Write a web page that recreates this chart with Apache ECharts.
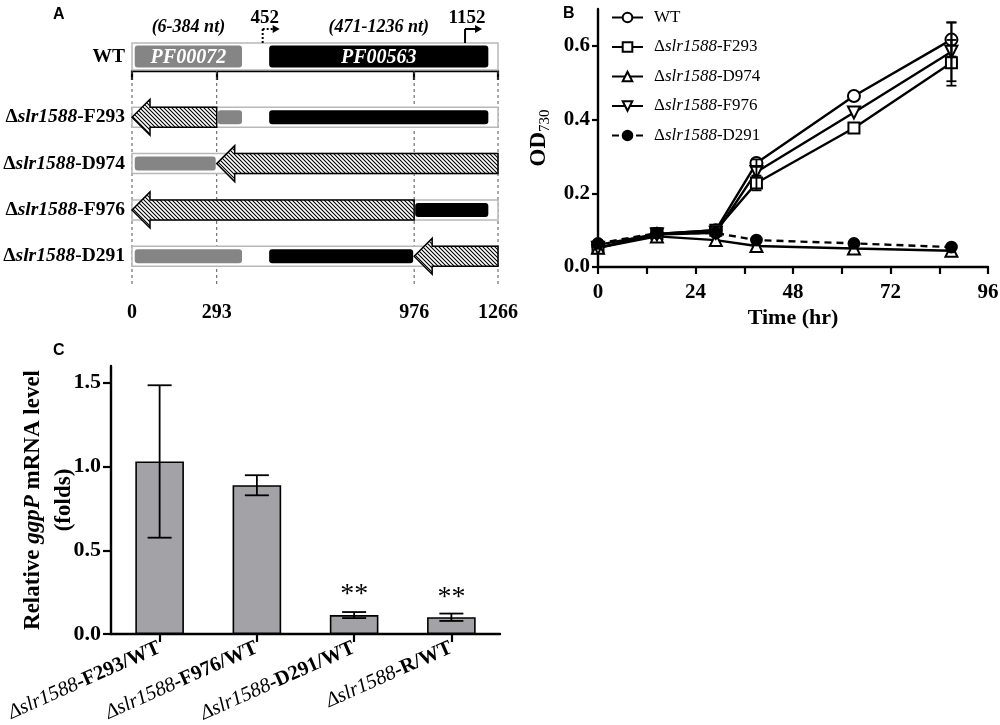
<!DOCTYPE html>
<html>
<head>
<meta charset="utf-8">
<script src="https://cdn.jsdelivr.net/npm/echarts@6/dist/echarts.min.js"></script>
<style>
html, body { margin: 0; padding: 0; background: #fff; }
#fig { width: 1000px; height: 725px; }
</style>
</head>
<body>
<div id="fig"></div>
<script>
// ---- panel A: gene map
const geneLength = 1266;
const geneTicks = [0, 293, 976, 1266];
const domainNames = ['PF00072', 'PF00563'];
const domainStart = [6, 471];
const domainEnd = [384, 1236];
const domainRanges = ['(6-384 nt)', '(471-1236 nt)'];
const promoterPos = [452, 1152];
const mutantNames = ['F293', 'D974', 'F976', 'D291'];
const deletionStart = [0, 293, 0, 976];
const deletionEnd = [293, 1266, 976, 1266];

// ---- panel B: growth
const strainNames = ['WT', 'Δslr1588-F293', 'Δslr1588-D974', 'Δslr1588-F976', 'Δslr1588-D291'];
const timeHr = [0, 14.5, 29, 39, 63, 87];
const odWT = [0.060, 0.090, 0.100, 0.282, 0.464, 0.617];
const odF293 = [0.052, 0.090, 0.100, 0.228, 0.377, 0.554];
const odD974 = [0.052, 0.083, 0.073, 0.057, 0.050, 0.044];
const odF976 = [0.052, 0.088, 0.093, 0.258, 0.419, 0.584];
const odD291 = [0.064, 0.092, 0.092, 0.073, 0.064, 0.054];
const errWT = [0, 0, 0, 0.010, 0, 0.046];
const errF293 = [0, 0, 0.010, 0.020, 0, 0.062];
const errD974 = [0, 0, 0, 0, 0, 0];
const errF976 = [0, 0, 0, 0.015, 0, 0.080];
const errD291 = [0, 0, 0, 0, 0, 0];
const timeTicks = [0, 12, 24, 36, 48, 60, 72, 84, 96];
const timeLabels = [0, 24, 48, 72, 96];
const odLabels = [0, 0.2, 0.4, 0.6];

// ---- panel C: ggpP mRNA
const ratioNames = ['Δslr1588-F293/WT', 'Δslr1588-F976/WT', 'Δslr1588-D291/WT', 'Δslr1588-R/WT'];
const ratioValues = [1.03, 0.888, 0.113, 0.100];
const ratioErr = [0.455, 0.060, 0.018, 0.022];
const ratioSig = ['', '', '**', '**'];
const ratioLabels = [0, 0.5, 1.0, 1.5];

const serif = '"Liberation Serif", "Times New Roman", serif';
const sans = '"Liberation Sans", Arial, sans-serif';
const rowAxisMax = 4.6;

var chart = echarts.init(document.getElementById('fig'));

// hatch fill for the inserted cassette arrows
const hatchCanvas = (() => {
    const s = 4, c = document.createElement('canvas');
    c.width = s; c.height = s;
    const g = c.getContext('2d');
    g.fillStyle = '#fff'; g.fillRect(0, 0, s, s);
    g.strokeStyle = '#000'; g.lineWidth = 1.1;
    g.beginPath();
    g.moveTo(-1, -1); g.lineTo(s + 1, s + 1);
    g.moveTo(-1, s - 1); g.lineTo(1, s + 1);
    g.moveTo(s - 1, -1); g.lineTo(s + 1, 1);
    g.stroke();
    return c;
})();

// domain pieces left in each mutant after the deletion
const mutantDomains = [];
mutantNames.forEach((m, r) => {
    domainStart.forEach((s, i) => {
        const e = domainEnd[i], a = deletionStart[r], b = deletionEnd[r];
        if (b <= s || a >= e) { mutantDomains.push([s, e, r + 1, i]); return; }
        if (s < a) mutantDomains.push([s, a, r + 1, i]);
        if (e > b) mutantDomains.push([b, e, r + 1, i]);
    });
});

const domainFill = ['#858585', '#000'];

const trackItem = (api, h) => {
    const p0 = api.coord([api.value(0), api.value(2)]);
    const p1 = api.coord([api.value(1), api.value(2)]);
    return {
        type: 'rect',
        shape: { x: p0[0], y: p0[1] - h / 2, width: p1[0] - p0[0], height: h },
        style: { fill: '#fff', stroke: '#b8b8b8', lineWidth: 1.5 }
    };
};

const domainItem = (api, h, withText) => {
    const p0 = api.coord([api.value(0), api.value(2)]);
    const p1 = api.coord([api.value(1), api.value(2)]);
    const k = api.value(3);
    const children = [{
        type: 'rect',
        shape: { x: p0[0] + 1, y: p0[1] - h / 2, width: p1[0] - p0[0] - 2, height: h, r: 3 },
        style: { fill: domainFill[k] }
    }];
    if (withText) {
        children.push({
            type: 'text',
            style: {
                text: domainNames[k], x: (p0[0] + p1[0]) / 2, y: p0[1] + 1,
                fill: '#fff', font: 'italic bold 20px ' + serif, align: 'center', verticalAlign: 'middle'
            }
        });
        children.push({
            type: 'text',
            style: {
                text: domainRanges[k], x: (p0[0] + p1[0]) / 2, y: p0[1] - 29,
                fill: '#000', font: 'italic bold 18px ' + serif, align: 'center', verticalAlign: 'middle'
            }
        });
    }
    return { type: 'group', children: children };
};

const mutantLabel = (v) => {
    const n = mutantNames[v - 1];
    return n ? '{d|Δ}{i|slr1588}{b|-' + n + '}' : '';
};

const rowRich = {
    d: { fontFamily: serif, fontWeight: 'bold', fontSize: 19.5, color: '#000' },
    i: { fontFamily: serif, fontWeight: 'bold', fontStyle: 'italic', fontSize: 19.5, color: '#000' },
    b: { fontFamily: serif, fontWeight: 'bold', fontSize: 19.5, color: '#000' }
};

const legendRich = {
    n: { fontFamily: serif, fontSize: 17, color: '#000', lineHeight: 18 },
    i: { fontFamily: serif, fontStyle: 'italic', fontSize: 17, color: '#000', lineHeight: 18 }
};

// error bar points for panel B
const odSets = [odWT, odF293, odD974, odF976, odD291];
const errSets = [errWT, errF293, errD974, errF976, errD291];
const odErrData = [];
odSets.forEach((set, s) => {
    set.forEach((v, i) => {
        const e = errSets[s][i];
        if (e > 0.005) odErrData.push([timeHr[i], v - e, v + e]);
    });
});

const errorItem = (capW) => (params, api) => {
    const lo = api.coord([api.value(0), api.value(1)]);
    const hi = api.coord([api.value(0), api.value(2)]);
    const st = { stroke: '#000', lineWidth: 1.8 };
    return {
        type: 'group',
        children: [
            { type: 'line', shape: { x1: lo[0], y1: lo[1], x2: hi[0], y2: hi[1] }, style: st },
            { type: 'line', shape: { x1: lo[0] - capW / 2, y1: lo[1], x2: lo[0] + capW / 2, y2: lo[1] }, style: st },
            { type: 'line', shape: { x1: hi[0] - capW / 2, y1: hi[1], x2: hi[0] + capW / 2, y2: hi[1] }, style: st }
        ]
    };
};

const symbols = ['emptyCircle', 'emptyRect', 'emptyTriangle', 'emptyTriangle', 'circle'];
const symbolSizes = [12, 11, 12, 12, 11];
const symbolRotates = [0, 0, 0, 180, 0];

const lineSeries = strainNames.map((name, s) => ({
    name: name,
    type: 'line',
    xAxisIndex: 2,
    yAxisIndex: 2,
    data: timeHr.map((t, i) => [t, odSets[s][i]]),
    symbol: symbols[s],
    symbolSize: symbolSizes[s],
    symbolRotate: symbolRotates[s],
    lineStyle: { color: '#000', width: 2.4, type: s === 4 ? [7, 5] : 'solid' },
    itemStyle: { color: '#000', borderColor: '#000', borderWidth: 1.8 },
    z: 2
}));

const axisLineStyle = { lineStyle: { color: '#000', width: 2.4 } };
const tickStyle = { color: '#000', width: 2.2 };
const titleStyle = { fontFamily: sans, fontWeight: 'bold', fontSize: 16, color: '#000' };

option = {
    animation: false,
    backgroundColor: '#fff',
    title: [
        { text: 'A', left: 48, top: 2, textStyle: titleStyle },
        { text: 'B', left: 558, top: 1, textStyle: titleStyle },
        { text: 'C', left: 48, top: 338, textStyle: titleStyle }
    ],
    legend: {
        orient: 'vertical',
        left: 606,
        top: 4,
        itemWidth: 31,
        itemHeight: 12,
        itemGap: 12.5,
        data: strainNames,
        formatter: (name) => name === 'WT' ? '{n|WT}' : '{n|Δ}{i|slr1588}{n|' + name.slice(8) + '}',
        textStyle: { rich: legendRich, padding: [0, 0, 0, 6] }
    },
    grid: [
        { left: 132, width: 366, top: 43, height: 27, outerBoundsMode: 'none' },
        { left: 132, width: 366, top: 71, height: 213, outerBoundsMode: 'none' },
        { left: 598, width: 390, top: 9, height: 258, outerBoundsMode: 'none' },
        { left: 111, width: 389, top: 366, height: 268, outerBoundsMode: 'none' }
    ],
    xAxis: [
        { gridIndex: 0, type: 'value', min: 0, max: geneLength, show: false },
        {
            gridIndex: 1, type: 'value', min: 0, max: geneLength,
            axisLine: axisLineStyle,
            axisTick: { show: true, length: 9, lineStyle: tickStyle, customValues: geneTicks },
            axisLabel: { customValues: geneTicks, margin: 19, formatter: (v) => String(v), fontFamily: serif, fontWeight: 'bold', fontSize: 20, color: '#000' },
            splitLine: { show: false }
        },
        {
            gridIndex: 2, type: 'value', min: 0, max: 96,
            name: 'Time (hr)', nameLocation: 'middle', nameGap: 40,
            nameTextStyle: { fontFamily: serif, fontWeight: 'bold', fontSize: 22, color: '#000' },
            axisLine: axisLineStyle,
            axisTick: { show: true, length: 7, lineStyle: tickStyle, customValues: timeTicks },
            axisLabel: { customValues: timeLabels, margin: 15, formatter: (v) => String(v), fontFamily: serif, fontWeight: 'bold', fontSize: 21, color: '#000' },
            splitLine: { show: false }
        },
        {
            gridIndex: 3, type: 'category', data: ratioNames,
            axisLine: axisLineStyle,
            axisTick: { show: true, alignWithLabel: true, length: 8, lineStyle: tickStyle },
            axisLabel: {
                interval: 0, rotate: 24, margin: 13,
                formatter: (v) => '{i|' + v.slice(0, 8) + '}{b|' + v.slice(8) + '}',
                rich: {
                    i: { fontFamily: serif, fontStyle: 'italic', fontSize: 20.5, color: '#000' },
                    b: { fontFamily: serif, fontWeight: 'bold', fontSize: 20.5, color: '#000' }
                }
            }
        }
    ],
    yAxis: [
        {
            gridIndex: 0, type: 'category', data: ['WT'],
            axisLine: { show: false }, axisTick: { show: false },
            axisLabel: { margin: 7, fontFamily: serif, fontWeight: 'bold', fontSize: 19.5, color: '#000' }
        },
        {
            gridIndex: 1, type: 'value', inverse: true, min: 0, max: rowAxisMax,
            axisLine: { show: false }, axisTick: { show: false }, splitLine: { show: false },
            axisLabel: { customValues: [1, 2, 3, 4], margin: 7, formatter: mutantLabel, rich: rowRich }
        },
        {
            gridIndex: 2, type: 'value', min: 0, max: 0.7,
            name: '{a|OD}{s|730}', nameLocation: 'middle', nameRotate: 90, nameGap: 45,
            nameTextStyle: {
                rich: {
                    a: { fontFamily: serif, fontWeight: 'bold', fontSize: 23, color: '#000', lineHeight: 28 },
                    s: { fontFamily: serif, fontSize: 15, color: '#000', lineHeight: 14, verticalAlign: 'bottom' }
                }
            },
            axisLine: { show: true, lineStyle: { color: '#000', width: 2.4 } },
            axisTick: { show: true, length: 6, lineStyle: tickStyle, customValues: odLabels },
            axisLabel: { customValues: odLabels, margin: 8, formatter: (v) => v.toFixed(1), fontFamily: serif, fontWeight: 'bold', fontSize: 21, color: '#000' },
            splitLine: { show: false }
        },
        {
            gridIndex: 3, type: 'value', min: 0, max: 1.6,
            name: 'Relative {i|ggpP} mRNA level\n(folds)', nameLocation: 'middle', nameRotate: 90, nameGap: 31,
            nameMoveOverlap: false,
            nameTextStyle: {
                fontFamily: serif, fontWeight: 'bold', fontSize: 23, color: '#000', lineHeight: 31,
                rich: { i: { fontFamily: serif, fontWeight: 'bold', fontStyle: 'italic', fontSize: 23, color: '#000', lineHeight: 31 } }
            },
            axisLine: { show: true, lineStyle: { color: '#000', width: 2.4 } },
            axisTick: { show: true, length: 8, lineStyle: tickStyle, customValues: ratioLabels },
            axisLabel: { customValues: ratioLabels, margin: 10, formatter: (v) => v.toFixed(1), fontFamily: serif, fontWeight: 'bold', fontSize: 22, color: '#000' },
            splitLine: { show: false }
        }
    ],
    series: [
        // A: WT row
        {
            type: 'custom', xAxisIndex: 0, yAxisIndex: 0, encode: { x: [0, 1], y: 2 },
            data: [[0, geneLength, 0]],
            renderItem: (params, api) => trackItem(api, 27)
        },
        {
            type: 'custom', xAxisIndex: 0, yAxisIndex: 0, encode: { x: [0, 1], y: 2 }, clip: false,
            data: domainStart.map((s, i) => [s, domainEnd[i], 0, i]),
            renderItem: (params, api) => domainItem(api, 22, true)
        },
        {
            type: 'custom', xAxisIndex: 0, yAxisIndex: 0, encode: { x: 0, y: 1 }, clip: false,
            data: promoterPos.map((p, i) => [p, 0, i]),
            renderItem: (params, api) => {
                const c = api.coord([api.value(0), api.value(1)]);
                const x = c[0], top = c[1] - 13.5, yb = top - 14;
                const st = { stroke: '#000', lineWidth: 2, lineDash: api.value(2) === 0 ? [2, 2] : null };
                return {
                    type: 'group',
                    children: [
                        { type: 'line', shape: { x1: x, y1: top, x2: x, y2: yb }, style: st },
                        { type: 'line', shape: { x1: x, y1: yb, x2: x + 11, y2: yb }, style: st },
                        { type: 'polygon', shape: { points: [[x + 10, yb - 4], [x + 17, yb], [x + 10, yb + 4]] }, style: { fill: '#000' } },
                        {
                            type: 'text',
                            style: {
                                text: String(promoterPos[api.value(2)]), x: x + 2, y: yb - 11,
                                fill: '#000', font: 'bold 19px ' + serif, align: 'center', verticalAlign: 'middle'
                            }
                        }
                    ]
                };
            }
        },
        // A: guide lines
        {
            type: 'custom', xAxisIndex: 1, yAxisIndex: 1, encode: { x: 0, y: [1, 2] },
            data: geneTicks.map((v) => [v, 0, rowAxisMax]),
            renderItem: (params, api) => {
                const a = api.coord([api.value(0), api.value(1)]);
                const b = api.coord([api.value(0), api.value(2)]);
                return {
                    type: 'line',
                    shape: { x1: a[0], y1: a[1], x2: b[0], y2: b[1] },
                    style: { stroke: '#555', lineWidth: 1, lineDash: [3, 3] }
                };
            }
        },
        // A: mutant rows
        {
            type: 'custom', xAxisIndex: 1, yAxisIndex: 1, encode: { x: [0, 1], y: 2 },
            data: mutantNames.map((m, r) => [0, geneLength, r + 1]),
            renderItem: (params, api) => trackItem(api, 20)
        },
        {
            type: 'custom', xAxisIndex: 1, yAxisIndex: 1, encode: { x: [0, 1], y: 2 },
            data: mutantDomains,
            renderItem: (params, api) => domainItem(api, 14, false)
        },
        {
            type: 'custom', xAxisIndex: 1, yAxisIndex: 1, encode: { x: [0, 1], y: 2 }, clip: false,
            data: mutantNames.map((m, r) => [deletionStart[r], deletionEnd[r], r + 1]),
            renderItem: (params, api) => {
                const tip = api.coord([api.value(0), api.value(2)]);
                const tail = api.coord([api.value(1), api.value(2)]);
                const L = 18, H = 18, h = 10, y = tip[1], x = tip[0];
                return {
                    type: 'polygon',
                    shape: { points: [[x, y], [x + L, y - H], [x + L, y - h], [tail[0], y - h], [tail[0], y + h], [x + L, y + h], [x + L, y + H]] },
                    style: { fill: { image: hatchCanvas, repeat: 'repeat' }, stroke: '#000', lineWidth: 1.5 }
                };
            }
        },
        // B
        ...lineSeries,
        {
            type: 'custom', xAxisIndex: 2, yAxisIndex: 2, encode: { x: 0, y: [1, 2] }, z: 3,
            data: odErrData,
            renderItem: errorItem(10)
        },
        // C
        {
            type: 'bar', xAxisIndex: 3, yAxisIndex: 3,
            data: ratioValues,
            barWidth: '50%',
            itemStyle: { color: '#a3a2a7', borderColor: '#000', borderWidth: 1.6 },
            label: {
                show: true, position: 'top', distance: 6,
                formatter: (p) => ratioSig[p.dataIndex],
                fontFamily: serif, fontSize: 28, color: '#000'
            }
        },
        {
            type: 'custom', xAxisIndex: 3, yAxisIndex: 3, encode: { x: 0, y: [1, 2] }, z: 3,
            data: ratioValues.map((v, i) => [i, v - ratioErr[i], v + ratioErr[i]]),
            renderItem: errorItem(24)
        }
    ]
};

chart.setOption(option);
</script>
</body>
</html>
